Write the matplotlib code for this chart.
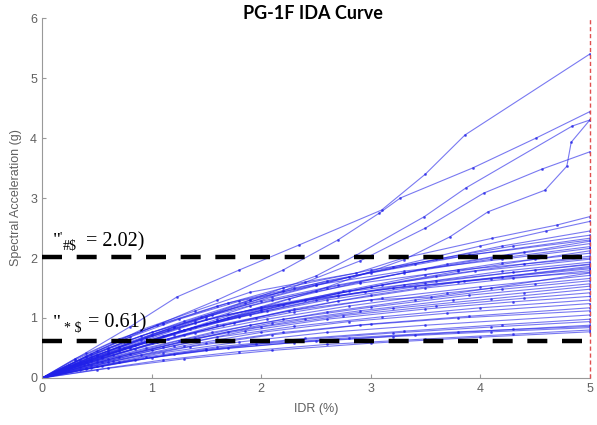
import matplotlib
matplotlib.use('Agg')
import matplotlib.pyplot as plt

# IDA curves: one list of IDR (%) and one of Sa (g) per record
idr_curves = [
    [0, 0.4, 0.8, 1.23, 1.8, 2.35, 3.1, 3.5, 3.86, 5.0],
    [0, 0.5, 1.1, 1.6, 2.2, 2.7, 3.08, 3.27, 3.93, 4.51, 5.0],
    [0, 0.6, 1.2, 1.9, 2.5, 2.87, 3.49, 3.87, 4.84, 5.0],
    [0, 0.7, 1.4, 2.2, 2.9, 3.5, 4.03, 4.56, 5.0],
    [0, 0.8, 1.6, 2.5, 3.3, 3.72, 4.07, 4.59, 4.79, 4.83, 5.0],
    [0, 0.45, 0.9, 1.4, 1.9, 2.4, 2.87, 3.3, 4.11, 4.7, 5.0],
    [0, 0.6, 1.2, 1.85, 2.5, 3.2, 4.0, 4.6, 5.0],
    [0, 0.35, 0.75, 1.3, 1.9, 2.6, 3.4, 4.2, 5.0],
    [0, 0.5, 1.0, 1.55, 2.1, 2.8, 3.6, 4.3, 5.0],
    [0, 0.3, 0.7, 1.1, 1.7, 2.3, 3.0, 3.9, 5.0],
    [0, 0.55, 1.05, 1.6, 2.25, 2.9, 3.7, 4.4, 5.0],
    [0, 0.4, 0.9, 1.45, 2.0, 2.7, 3.5, 4.25, 5.0],
    [0, 0.6, 1.25, 1.9, 2.6, 3.3, 4.1, 5.0],
    [0, 0.45, 0.95, 1.5, 2.2, 3.0, 3.8, 4.5, 5.0],
    [0, 0.7, 1.3, 2.0, 2.75, 3.5, 4.2, 5.0],
    [0, 0.35, 0.8, 1.35, 2.0, 2.8, 3.6, 4.4, 5.0],
    [0, 0.5, 1.1, 1.7, 2.4, 3.1, 3.95, 5.0],
    [0, 0.6, 1.2, 1.8, 2.5, 3.3, 4.2, 5.0],
    [0, 0.4, 0.85, 1.4, 2.05, 2.7, 3.5, 4.3, 5.0],
    [0, 0.55, 1.15, 1.75, 2.3, 3.0, 3.8, 5.0],
    [0, 0.3, 0.75, 1.3, 1.9, 2.6, 3.4, 4.2, 5.0],
    [0, 0.65, 1.3, 1.95, 2.7, 3.5, 4.3, 5.0],
    [0, 0.45, 1.0, 1.6, 2.25, 3.0, 3.55, 4.1, 5.0],
    [0, 0.5, 1.05, 1.65, 2.3, 3.1, 4.0, 5.0],
    [0, 0.38, 0.85, 1.4, 2.05, 2.8, 3.7, 4.5, 5.0],
    [0, 0.6, 1.25, 1.9, 2.6, 3.4, 4.2, 5.0],
    [0, 0.42, 0.95, 1.55, 2.2, 3.0, 3.9, 5.0],
    [0, 0.7, 1.4, 2.1, 2.9, 3.75, 4.4, 5.0],
    [0, 0.5, 1.1, 1.7, 2.4, 3.2, 4.1, 5.0],
    [0, 0.35, 0.8, 1.35, 2.0, 2.75, 3.6, 4.4, 5.0],
    [0, 0.55, 1.2, 1.85, 2.6, 3.5, 4.3, 5.0],
    [0, 0.45, 1.0, 1.6, 2.3, 3.1, 4.0, 5.0],
    [0, 0.6, 1.3, 2.0, 2.8, 3.7, 5.0],
    [0, 0.4, 0.9, 1.5, 2.2, 3.0, 3.9, 5.0],
    [0, 0.65, 1.35, 2.1, 2.9, 3.8, 5.0],
    [0, 0.5, 1.1, 1.8, 2.6, 3.5, 5.0],
    [0, 0.4, 0.95, 1.6, 2.4, 3.3, 4.2, 5.0],
    [0, 0.7, 1.5, 2.3, 3.2, 4.1, 5.0],
    [0, 0.45, 1.0, 1.7, 2.5, 3.4, 4.3, 5.0],
    [0, 0.55, 1.2, 1.95, 2.8, 3.8, 5.0],
    [0, 0.35, 0.85, 1.5, 2.3, 3.2, 4.1, 5.0],
    [0, 0.5, 1.1, 1.8, 2.6, 3.5, 4.3, 5.0],
    [0, 0.6, 1.3, 2.1, 3.0, 4.0, 5.0],
    [0, 0.3, 0.65, 1.05, 1.6, 2.2, 3.0, 3.9, 5.0],
    [0, 0.4, 0.8, 1.25, 1.8, 2.5, 3.3, 4.2, 5.0],
    [0, 0.25, 0.6, 1.0, 1.5, 2.1, 2.9, 3.8, 5.0],
    [0, 0.45, 0.9, 1.4, 2.0, 2.7, 3.6, 4.5, 5.0],
    [0, 0.3, 0.7, 1.15, 1.7, 2.4, 3.2, 4.1, 5.0],
    [0, 0.5, 0.95, 1.5, 2.15, 2.95, 3.85, 5.0],
]
sa_curves = [
    [0, 0.42, 0.85, 1.35, 1.8, 2.22, 2.8, 3.4, 4.05, 5.4],
    [0, 0.45, 0.92, 1.3, 1.8, 2.3, 2.75, 3.0, 3.5, 4.0, 4.44],
    [0, 0.45, 0.85, 1.3, 1.7, 2.05, 2.69, 3.17, 4.2, 4.3],
    [0, 0.5, 0.95, 1.45, 1.95, 2.5, 3.08, 3.48, 3.77],
    [0, 0.5, 0.95, 1.45, 1.97, 2.35, 2.77, 3.13, 3.53, 3.93, 4.3],
    [0, 0.4, 0.8, 1.12, 1.43, 1.6, 1.75, 2.0, 2.33, 2.55, 2.69],
    [0, 0.48, 0.85, 1.25, 1.55, 1.85, 2.2, 2.45, 2.61],
    [0, 0.3, 0.6, 0.95, 1.3, 1.62, 1.9, 2.2, 2.45],
    [0, 0.38, 0.72, 1.05, 1.35, 1.68, 1.98, 2.2, 2.38],
    [0, 0.32, 0.65, 0.9, 1.25, 1.5, 1.75, 2.05, 2.33],
    [0, 0.35, 0.65, 0.98, 1.32, 1.6, 1.9, 2.1, 2.28],
    [0, 0.35, 0.7, 1.02, 1.28, 1.55, 1.82, 2.05, 2.24],
    [0, 0.42, 0.82, 1.2, 1.5, 1.75, 1.98, 2.19],
    [0, 0.3, 0.6, 0.9, 1.22, 1.52, 1.78, 1.98, 2.12],
    [0, 0.45, 0.8, 1.15, 1.45, 1.72, 1.92, 2.08],
    [0, 0.25, 0.52, 0.82, 1.12, 1.45, 1.7, 1.9, 2.03],
    [0, 0.36, 0.7, 1.0, 1.3, 1.55, 1.78, 1.98],
    [0, 0.4, 0.72, 1.02, 1.3, 1.55, 1.78, 1.93],
    [0, 0.27, 0.55, 0.85, 1.12, 1.36, 1.58, 1.76, 1.89],
    [0, 0.33, 0.65, 0.92, 1.15, 1.38, 1.6, 1.86],
    [0, 0.22, 0.5, 0.8, 1.05, 1.3, 1.52, 1.68, 1.82],
    [0, 0.38, 0.72, 1.0, 1.28, 1.5, 1.66, 1.79],
    [0, 0.28, 0.58, 0.88, 1.12, 1.3, 1.35, 1.5, 1.75],
    [0, 0.3, 0.6, 0.88, 1.1, 1.33, 1.52, 1.71],
    [0, 0.22, 0.48, 0.75, 0.98, 1.2, 1.42, 1.57, 1.66],
    [0, 0.32, 0.62, 0.88, 1.1, 1.3, 1.48, 1.62],
    [0, 0.24, 0.5, 0.76, 0.98, 1.18, 1.38, 1.57],
    [0, 0.35, 0.66, 0.92, 1.12, 1.3, 1.42, 1.53],
    [0, 0.26, 0.52, 0.77, 0.98, 1.16, 1.32, 1.48],
    [0, 0.18, 0.4, 0.64, 0.85, 1.04, 1.2, 1.33, 1.42],
    [0, 0.26, 0.54, 0.78, 0.98, 1.15, 1.27, 1.36],
    [0, 0.22, 0.46, 0.68, 0.86, 1.02, 1.17, 1.3],
    [0, 0.27, 0.54, 0.76, 0.94, 1.08, 1.24],
    [0, 0.17, 0.38, 0.58, 0.76, 0.9, 1.03, 1.17],
    [0, 0.28, 0.52, 0.72, 0.88, 1.0, 1.12],
    [0, 0.2, 0.42, 0.6, 0.76, 0.88, 1.05],
    [0, 0.15, 0.35, 0.52, 0.66, 0.78, 0.89, 0.98],
    [0, 0.26, 0.48, 0.63, 0.75, 0.85, 0.94],
    [0, 0.16, 0.34, 0.5, 0.62, 0.72, 0.81, 0.88],
    [0, 0.2, 0.4, 0.56, 0.67, 0.77, 0.86],
    [0, 0.13, 0.3, 0.46, 0.59, 0.69, 0.77, 0.84],
    [0, 0.14, 0.3, 0.44, 0.56, 0.65, 0.73, 0.8],
    [0, 0.16, 0.32, 0.46, 0.58, 0.68, 0.77],
    [0, 0.3, 0.6, 0.88, 1.2, 1.5, 1.8, 2.05, 2.3],
    [0, 0.36, 0.68, 0.98, 1.28, 1.55, 1.78, 1.98, 2.16],
    [0, 0.22, 0.5, 0.76, 1.02, 1.3, 1.58, 1.8, 2.0],
    [0, 0.35, 0.64, 0.92, 1.18, 1.42, 1.62, 1.8, 1.9],
    [0, 0.24, 0.52, 0.8, 1.06, 1.3, 1.5, 1.65, 1.76],
    [0, 0.38, 0.66, 0.98, 1.22, 1.44, 1.62, 1.84],
]

sa_levels = [2.02, 0.61]
collapse_idr = 5.0
x_ticks = [0, 1, 2, 3, 4, 5]
y_ticks = [0, 1, 2, 3, 4, 5, 6]

grey = '#606060'
sans = 'Liberation Sans'

fig = plt.figure(figsize=(5.97, 4.25), dpi=100)
ax = fig.add_axes([0.0704, 0.1106, 0.9176, 0.847])

for xs, ys in zip(idr_curves, sa_curves):
    ax.plot(xs, ys, color='#2020e8', alpha=0.6, lw=0.8,
            marker='.', markersize=2.2)

ax.axvline(collapse_idr, color='#e05050', lw=1.0, ls=(0, (3, 2)),
           clip_on=False, zorder=6)
for lvl in sa_levels:
    ax.axhline(lvl, color='black', lw=3.2, ls=(0, (4.5, 3.3)), zorder=5)

ax.set_xlim(0, 5)
ax.set_ylim(0, 6)
ax.set_xticks(x_ticks)
ax.set_yticks(y_ticks)
ax.spines['top'].set_visible(False)
ax.spines['right'].set_visible(False)
for s in ['left', 'bottom']:
    ax.spines[s].set_color('#999999')
ax.tick_params(direction='in', length=3, colors='#999999', labelcolor=grey,
               labelsize=9)
for lab in ax.get_xticklabels() + ax.get_yticklabels():
    lab.set_family(sans)
ax.set_xlabel('IDR (%)', color=grey, fontsize=9, labelpad=6, family=sans)
ax.set_ylabel('Spectral Acceleration (g)', color=grey, fontsize=9,
              labelpad=6, family=sans)

fig.text(0.525, 0.955, 'PG-1F IDA Curve', ha='center', va='baseline',
         fontsize=13, fontweight='bold', family='Lato')

# garbled annotations, kept as they appear
serif = 'Liberation Serif'
ax.text(0.10, 2.2, '"', fontsize=14, family=serif, va='baseline')
ax.text(0.16, 2.3, "'", fontsize=9, family=serif, va='baseline')
ax.text(0.19, 2.14, '#$', fontsize=10, family=serif, va='baseline')
ax.text(0.40, 2.2, '= 2.02)', fontsize=14.5, family=serif, va='baseline')
ax.text(0.10, 0.84, '"', fontsize=14, family=serif, va='baseline')
ax.text(0.20, 0.77, '* $', fontsize=10, family=serif, va='baseline')
ax.text(0.42, 0.84, '= 0.61)', fontsize=14.5, family=serif, va='baseline')

fig.savefig('out.png', dpi=100)
